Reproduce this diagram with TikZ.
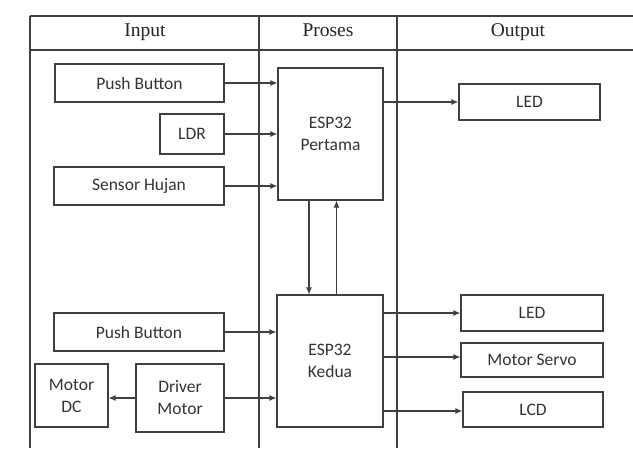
\documentclass[tikz,border=0pt]{standalone}
\usepackage{fontspec}
\setmainfont{Liberation Serif}
\newfontfamily\boxfont{Carlito}
\usetikzlibrary{arrows.meta}
\tikzset{
  ln/.style={draw=black!75, line width=1.1pt},
  box/.style={ln, rectangle, inner sep=0pt, font=\boxfont\fontsize{17.5}{22}\selectfont, text=black!80, align=center},
  arr/.style={ln, -{Latex[length=7pt,width=6pt]}},
  head/.style={font=\fontsize{19.5}{22}\selectfont, text=black!85, anchor=base}
}
\begin{document}
\begin{tikzpicture}[x=1pt,y=-1pt]
\useasboundingbox (0,0) rectangle (633,448);
% table
\coordinate (tl) at (30,16);
\coordinate (tr) at (633,16);
\coordinate (hl) at (30,50);
\coordinate (hr) at (633,50);
\draw[ln] (tl) -- (tr);
\draw[ln] (hl) -- (hr);
\draw[ln] (30,16) -- (30,448);
\draw[ln] (259,16) -- (259,448);
\draw[ln] (397,16) -- (397,448);
\node[head] (hin) at (145,36) {Input};
\node[head] (hpr) at (328,36) {Proses};
\node[head] (hout) at (518,36) {Output};
% boxes
\node[box, minimum width=169, minimum height=38] (pb1) at (139.5,83) {Push Button};
\node[box, minimum width=64, minimum height=40] (ldr) at (192,134) {LDR};
\node[box, minimum width=170, minimum height=38] (sh) at (139,186) {Sensor Hujan};
\node[box, minimum width=105, minimum height=132] (esp1) at (330.5,134) {ESP32\\Pertama};
\node[box, minimum width=141, minimum height=36] (led1) at (529.5,102) {LED};
\node[box, minimum width=106, minimum height=132] (esp2) at (330,361) {ESP32\\Kedua};
\node[box, minimum width=170, minimum height=38] (pb2) at (139,332) {Push Button};
\node[box, minimum width=73, minimum height=63] (mdc) at (71.5,395.5) {Motor\\DC};
\node[box, minimum width=88, minimum height=68] (dm) at (180,398) {Driver\\Motor};
\node[box, minimum width=142, minimum height=36] (led2) at (532,313) {LED};
\node[box, minimum width=142, minimum height=34] (ms) at (532,360) {Motor Servo};
\node[box, minimum width=140, minimum height=35] (lcd) at (533,409.5) {LCD};
% arrows
\draw[arr] (pb1.east) -- (pb1.east -| esp1.west);
\draw[arr] (ldr.east) -- (ldr.east -| esp1.west);
\draw[arr] (sh.east) -- (sh.east -| esp1.west);
\draw[arr] (led1.west -| esp1.east) -- (led1.west);
\draw[arr] ([xshift=-21.5pt]esp1.south) -- ([xshift=-21.5pt]esp1.south |- esp2.north);
\draw[arr] ([xshift=6.5pt]esp2.north) -- ([xshift=6.5pt]esp2.north |- esp1.south);
\draw[arr] (pb2.east) -- (pb2.east -| esp2.west);
\draw[arr] (dm.east) -- (dm.east -| esp2.west);
\draw[arr] (dm.west) -- (dm.west -| mdc.east);
\draw[arr] (led2.west -| esp2.east) -- (led2.west);
\draw[arr] ([yshift=3pt]ms.west -| esp2.east) -- ([yshift=3pt]ms.west);
\draw[arr] ([yshift=-1.5pt]lcd.west -| esp2.east) -- ([yshift=-1.5pt]lcd.west);
\end{tikzpicture}
\end{document}
